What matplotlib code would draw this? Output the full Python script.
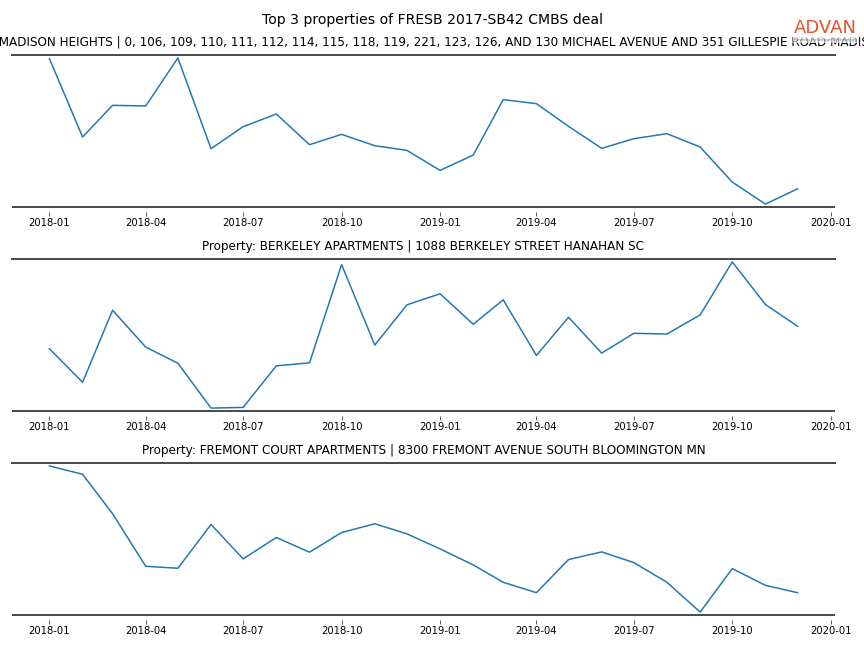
import pandas as pd
import numpy as np
import matplotlib
matplotlib.use("Agg")
import matplotlib.pyplot as plt
import matplotlib.dates as mdates

# monthly values, Jan 2018 - Dec 2019 (relative scale, no y axis shown)
months = pd.date_range("2018-01-01", periods=24, freq="MS")

madison = [443, 208, 303, 301, 445, 173, 239, 277, 185, 216, 182, 168,
           108, 154, 320, 308, 240, 174, 203, 218, 178, 73, 7, 53]
berkeley = [184, 84, 299, 189, 141, 7, 9, 133, 142, 435, 195, 315,
            348, 257, 330, 164, 278, 171, 230, 228, 285, 443, 316, 251]
fremont = [443, 418, 300, 143, 137, 268, 165, 229, 185, 244, 270, 240,
           195, 147, 95, 64, 163, 186, 154, 95, 6, 136, 86, 64]

titles = [
    "Property: MADISON HEIGHTS | 0, 106, 109, 110, 111, 112, 114, 115, 118, 119, 221, 123, 126, "
    "AND 130 MICHAEL AVENUE AND 351 GILLESPIE ROAD MADISON VA",
    "Property: BERKELEY APARTMENTS | 1088 BERKELEY STREET HANAHAN SC",
    "Property: FREMONT COURT APARTMENTS | 8300 FREMONT AVENUE SOUTH BLOOMINGTON MN",
]
series = [madison, berkeley, fremont]

fig, axes = plt.subplots(3, 1, figsize=(12, 9), dpi=72)
fig.subplots_adjust(left=0.0139, right=0.9664, bottom=0.0509, top=0.9151, hspace=0.342)
fig.suptitle("Top 3 properties of FRESB 2017-SB42 CMBS deal", fontsize=14)

for ax, vals, title in zip(axes, series, titles):
    ax.plot(months, vals, color="tab:blue", lw=1.5)
    ax.set_title(title, fontsize=12, pad=9)
    ax.margins(y=0.02)
    ax.set_yticks([])
    for side in ["left", "right"]:
        ax.spines[side].set_visible(False)
    ax.spines["top"].set_color("#4d4d4d")
    ax.spines["top"].set_linewidth(2)
    # ticks hang a little below the bottom line
    ax.spines["bottom"].set_position(("outward", 5))
    ax.spines["bottom"].set_color("none")
    ax.plot([0, 1], [0, 0], transform=ax.transAxes, color="#4d4d4d", lw=2,
            clip_on=False, solid_capstyle="butt")
    ax.xaxis.set_major_locator(mdates.MonthLocator(bymonth=[1, 4, 7, 10]))
    ax.xaxis.set_major_formatter(mdates.DateFormatter("%Y-%m"))
    ax.tick_params(axis="x", length=4, width=0.8, color="#333333", labelsize=10, pad=2)

# logo
fig.text(0.992, 0.943, "ADVAN", ha="right", va="bottom", fontsize=18, color="#e4542a",
         bbox=dict(facecolor="white", edgecolor="none", alpha=0.6, pad=1))
fig.text(0.992, 0.939, "Research through Technology", ha="right", va="center", fontsize=4.3,
         color="#777777", bbox=dict(facecolor="white", edgecolor="none", alpha=0.6, pad=1))

fig.savefig("out.png", dpi=72)
